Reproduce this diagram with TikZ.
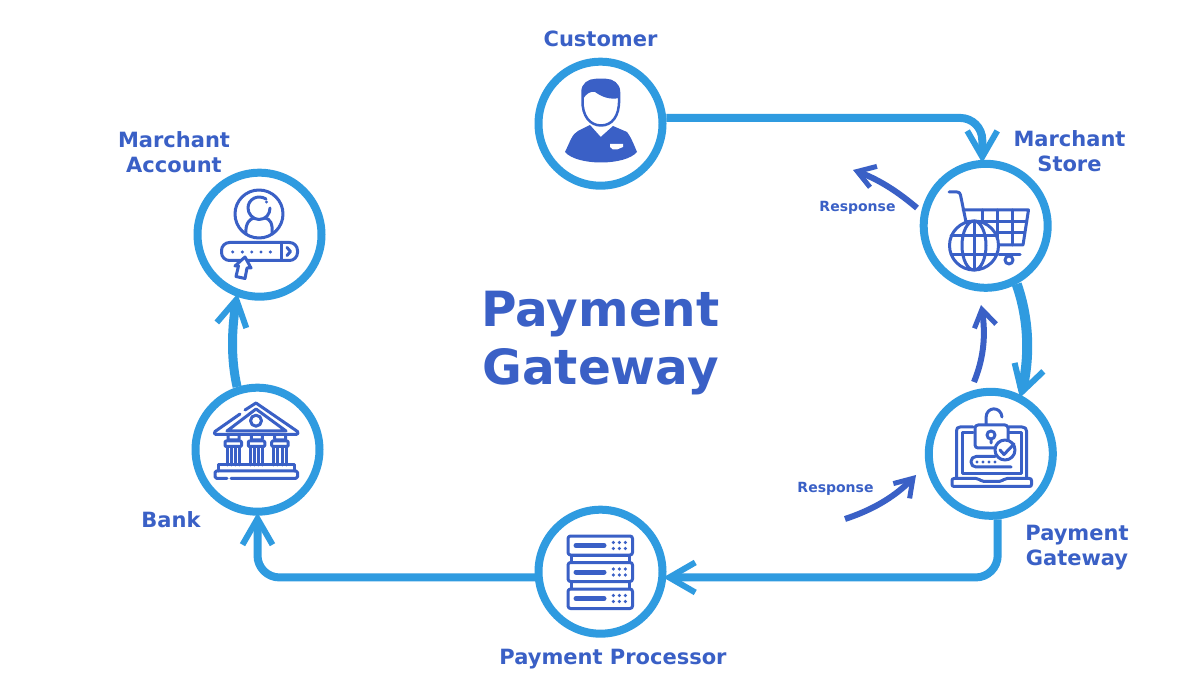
\documentclass[tikz,border=0pt]{standalone}
\usepackage{fontspec}
\setmainfont{DejaVu Sans}
\usetikzlibrary{arrows.meta,bending}
\definecolor{ring}{HTML}{2F9BE0}
\definecolor{ink}{HTML}{3A60C6}
\tikzset{
 x=1pt,y=-1pt,
 hub/.style={circle,draw=ring,fill=white,line width=8pt,minimum size=124pt,inner sep=0pt},
 lab/.style={text=ink,align=center,font=\fontsize{21}{25}\selectfont\bfseries,inner sep=0pt},
 small/.style={text=ink,font=\fontsize{14}{16}\selectfont\bfseries,inner sep=0pt},
 title/.style={text=ink,align=center,font=\fontsize{48.5}{58}\selectfont\bfseries,inner sep=0pt},
 flow/.style={draw=ring,line width=8pt,shorten >=-3pt,-{Straight Barb[length=26pt,width=30pt,line width=6pt,flex=0]}},
 resp/.style={draw=ink,line width=6pt,-{Straight Barb[length=17pt,width=22pt,line width=5pt,flex=0]}},
 ic/.style={draw=ink,line width=3pt,line join=round,line cap=round},
 icf/.style={ic,fill=white},
}
\begin{document}
\begin{tikzpicture}
\useasboundingbox[fill=white] (0,0) rectangle (1200,700);
\node[hub] (cust) at (600.5,123.7) {};
\node[hub] (store) at (985.7,225.8) {};
\node[hub] (gate) at (990.8,453.8) {};
\node[hub] (proc) at (600.5,571.7) {};
\node[hub] (bank) at (257.5,449.7) {};
\node[hub] (acct) at (259.5,234.7) {};
\draw[flow,rounded corners=22pt] (cust.5) -| (store.93);
\draw[flow,line width=10pt] (store.-62) .. controls (1031,325) and (1029,365) .. (gate.63);
\draw[flow,rounded corners=22pt] (gate.-84) |- (proc.-5);
\draw[flow,rounded corners=22pt] (proc.185) -| (bank.-90);
\draw[flow,line width=9pt] (bank.108) .. controls (231,360) and (231,330) .. (acct.-110);
\coordinate (r1a) at (917,208);
\coordinate (r1b) at (853,170);
\coordinate (r2a) at (974,382);
\coordinate (r2b) at (981,305);
\coordinate (r3a) at (845,519);
\coordinate (r3b) at (916,475);
\draw[resp] (r1a) .. controls (897,191) and (877,178) .. (r1b);
\draw[resp] (r2a) .. controls (985,355) and (986,330) .. (r2b);
\draw[resp] (r3a) .. controls (872,510) and (896,497) .. (r3b);
\node[lab] (lcust) at (600.5,39) {Customer};
\node[lab] (lstore) at (1069.5,151.5) {Marchant\\Store};
\node[lab] (lgate) at (1077,548) {Payment\\Gateway};
\node[lab] (lproc) at (613,659.5) {Payment Processor};
\node[lab] (lbank) at (171,520) {Bank};
\node[lab] (lacct) at (174,152.5) {Marchant\\Account};
\node[small] (lr1) at (857.5,208) {Response};
\node[small] (lr2) at (835.5,489) {Response};
\node[title] (ttl) at (600.5,343) {Payment\\Gateway};
% customer icon
\fill[ink] (565,152) .. controls (570,142) and (572,134) .. (578,131) -- (590,125) -- (600.7,137) -- (613,126) -- (627,132) .. controls (631,137) and (634,145) .. (637,152) .. controls (625,166) and (577,166) .. (565,152) -- cycle;
\draw[ic,line width=2.5pt,fill=white] (582.5,100) .. controls (582,116) and (590,125.5) .. (601,125.5) .. controls (612,125.5) and (619.5,116) .. (619,100) -- (619,92) .. controls (619,84) and (612,80) .. (606,80) -- (596,80) .. controls (589,80) and (582.5,84) .. (582.5,92) -- cycle;
\fill[ink] (583,99) .. controls (586,94) and (590,91) .. (595,92) .. controls (602,97) and (610,100) .. (619,98) -- (619,92) .. controls (619,84) and (612,80) .. (606,80) -- (596,80) .. controls (589,80) and (582.5,84) .. (582.5,92) -- cycle;
\fill[white] (610,144) -- (623,144) -- (623,147) -- (617,149.5) -- (613,149.5) -- (610,147) -- cycle;
% store icon
\draw[ic] (949,192) -- (957,192) .. controls (959,192) and (960,193) .. (960.5,195) -- (966,222);
\draw[ic] (963,210) -- (1028.5,210) -- (1023,245) -- (997,245);
\draw[ic] (966,222) -- (1026.5,222);
\draw[ic] (997,233) -- (1024.5,233);
\draw[ic] (982,210) -- (982,222) (997,210) -- (997,245) (1012,210) -- (1012,245);
\draw[ic] (999,255) -- (1020,255);
\draw[icf] (1009,260) circle (4);
\draw[icf] (974,245.5) circle (24.5);
\draw[ic] (974,221) -- (974,270);
\draw[ic] (974,245.5) ellipse (12 and 24.5);
\draw[ic] (951,236) -- (997,236) (951,255) -- (997,255);
% gateway icon
\draw[ic] (973,427) -- (960,427) .. controls (957.5,427) and (956.5,428.5) .. (956.5,431) -- (956.5,478);
\draw[ic] (1009,427) -- (1022,427) .. controls (1025,427) and (1026.5,428.5) .. (1026.5,431) -- (1026.5,478);
\draw[ic] (973,432.5) -- (962.5,432.5) -- (962.5,474) -- (1021,474) -- (1021,432.5) -- (1009,432.5);
\draw[ic,rounded corners=2pt] (952,478.5) -- (978,478.5) -- (982,481.5) -- (1001,481.5) -- (1005,478.5) -- (1031.5,478.5) -- (1031.5,486.5) -- (952,486.5) -- cycle;
\draw[ic,rounded corners=3pt] (998,448) -- (975,448) -- (975,425) -- (1008,425) -- (1008,440);
\draw[ic] (986,424) -- (986,418) .. controls (986,406) and (1001,406) .. (1002,417);
\draw[ic] (991,435) circle (4) (991,439) -- (991,443);
\draw[ic,rounded corners=5pt] (1011,467) -- (971,467) -- (971,456.5) -- (995,456.5);
\fill[ink] (977,462) circle (1.7) (983,462) circle (1.7) (989,462) circle (1.7) (995,462) circle (1.7);
\draw[icf] (1005,450) circle (10);
\draw[ic] (1000,450) -- (1004,454.5) -- (1014,444);
% processor icon
\draw[ic] (571,555) rectangle (629.5,562.5) (571,581.5) rectangle (629.5,589);
\draw[icf,rounded corners=2.5pt] (568,536) rectangle (632.5,555);
\draw[icf,rounded corners=2.5pt] (568,562.5) rectangle (632.5,581.5);
\draw[icf,rounded corners=2.5pt] (568,589) rectangle (632.5,608.5);
\foreach \yy in {545.5,572,598.5}{
 \draw[ink,line width=5pt,line cap=round] (576,\yy) -- (604,\yy);
 \fill[ink] (613.3,\yy-3) circle (1.8) (619.3,\yy-3) circle (1.8) (625.3,\yy-3) circle (1.8)
  (613.3,\yy+3) circle (1.8) (619.3,\yy+3) circle (1.8) (625.3,\yy+3) circle (1.8);
}
% bank icon
\draw[ic] (245,410) -- (256,403) -- (297.5,431.5) .. controls (298.5,433) and (298,434.5) .. (296,434.5) -- (216,434.5) .. controls (214,434.5) and (214,432.5) .. (215,431.5) -- (240,414);
\draw[ic] (256,409) -- (286,431) -- (227,431) -- cycle;
\draw[ic] (256,420.7) circle (5.5);
\foreach \xx in {225,248.3,271.7}{
 \draw[ic,rounded corners=1pt] (\xx+3,435) -- (\xx+3,440) -- (\xx+14,440) -- (\xx+14,435);
 \draw[ic,rounded corners=1pt] (\xx,441) rectangle (\xx+16.5,446.5);
 \draw[ic] (\xx+2,447) -- (\xx+2,465) (\xx+6.2,447) -- (\xx+6.2,465) (\xx+10.4,447) -- (\xx+10.4,465) (\xx+14.5,447) -- (\xx+14.5,465);
}
\draw[ic] (218.5,471) -- (218.5,465) -- (294.5,465) -- (294.5,471);
\draw[ic,rounded corners=1.5pt] (227,478.3) -- (215,478.3) -- (215,471) -- (297.5,471) -- (297.5,478.3) -- (231,478.3);
% account icon
\draw[ic] (259,214) circle (24);
\draw[ic] (266,199) .. controls (258,194) and (248,199) .. (248,208) .. controls (248,214) and (253,219.5) .. (259,219.5) .. controls (266,219.5) and (270,214) .. (270,208);
\fill[ink] (266.5,202) circle (1.6);
\draw[ic] (246,234) .. controls (245,223) and (250,219) .. (254,218) (265,218) .. controls (270,219) and (273,223) .. (272,234);
\draw[ic,rounded corners=8pt] (221.5,242.5) rectangle (297.5,260.5);
\draw[ic] (281.5,242.5) -- (281.5,260.5);
\draw[ic] (287,247.5) -- (290.5,251.5) -- (287,255.5);
\foreach \xx in {232.7,242.3,251.7,261,270.3}{\fill[ink] (\xx,252) circle (1.7);}
\draw[icf] (245,257) -- (251,268) -- (247,268) -- (245,278.5) -- (236,276.5) -- (238.5,266) -- (235,266) -- cycle;
\end{tikzpicture}
\end{document}
